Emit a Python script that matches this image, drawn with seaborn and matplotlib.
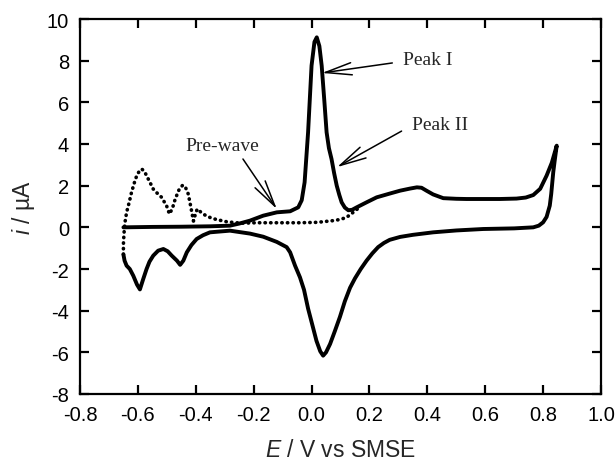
import pandas as pd
import matplotlib
matplotlib.use("Agg")
import matplotlib.pyplot as plt
import seaborn as sns

# --- data (E in V vs SMSE, i in uA) ---
# first cycle, forward sweep then reverse sweep (solid line)
e_fwd = [-0.650, -0.550, -0.450, -0.350, -0.282, -0.250, -0.213, -0.167, -0.120,
         -0.074, -0.046, -0.034, -0.024, -0.012, 0.000, 0.010, 0.018, 0.027,
         0.035, 0.044, 0.052, 0.060, 0.069, 0.078, 0.087, 0.096, 0.104, 0.115,
         0.127, 0.140, 0.156, 0.190, 0.225, 0.270, 0.306, 0.340, 0.364, 0.380,
         0.397, 0.420, 0.455, 0.500, 0.535, 0.600, 0.650, 0.708, 0.740, 0.766,
         0.790, 0.812, 0.830, 0.847]
i_fwd = [0.00, 0.02, 0.03, 0.05, 0.08, 0.18, 0.32, 0.56, 0.72,
         0.77, 0.96, 1.30, 2.16, 4.56, 7.76, 8.90, 9.12, 8.70,
         7.76, 6.10, 4.56, 3.80, 3.28, 2.60, 2.00, 1.55, 1.20, 0.95,
         0.82, 0.84, 0.96, 1.20, 1.44, 1.62, 1.76, 1.86, 1.92, 1.90,
         1.76, 1.58, 1.40, 1.37, 1.36, 1.36, 1.36, 1.38, 1.43, 1.55,
         1.85, 2.48, 3.10, 3.92]
e_rev = [0.847, 0.840, 0.835, 0.828, 0.823, 0.812, 0.800, 0.785, 0.766, 0.700,
         0.593, 0.500, 0.420, 0.350, 0.306, 0.270, 0.250, 0.230, 0.210, 0.190,
         0.170, 0.150, 0.133, 0.115, 0.098, 0.080, 0.064, 0.050, 0.040, 0.030,
         0.017, 0.003, -0.012, -0.026, -0.040, -0.057, -0.074, -0.086, -0.120,
         -0.167, -0.213, -0.282, -0.351, -0.375, -0.397, -0.415, -0.431, -0.443,
         -0.454, -0.465, -0.483, -0.497, -0.512, -0.530, -0.547, -0.560, -0.570,
         -0.582, -0.593, -0.603, -0.616, -0.628, -0.639, -0.646, -0.650]
i_rev = [3.92, 3.20, 2.64, 1.60, 1.04, 0.50, 0.24, 0.08, 0.00, -0.05,
         -0.08, -0.15, -0.24, -0.36, -0.46, -0.60, -0.75, -0.95, -1.25, -1.60,
         -2.00, -2.45, -2.90, -3.55, -4.30, -5.00, -5.60, -6.00, -6.16, -5.95,
         -5.45, -4.70, -3.90, -3.00, -2.40, -1.84, -1.20, -0.95, -0.70,
         -0.45, -0.30, -0.16, -0.24, -0.38, -0.56, -0.85, -1.20, -1.60,
         -1.80, -1.60, -1.36, -1.15, -1.04, -1.12, -1.36, -1.65, -2.00,
         -2.50, -2.98, -2.75, -2.32, -2.00, -1.84, -1.60, -1.30]

# second cycle where it departs from the first one (dotted line)
e_dot = [-0.650, -0.650, -0.648, -0.645, -0.639, -0.630, -0.622, -0.612, -0.604,
         -0.595, -0.587, -0.578, -0.570, -0.558, -0.547, -0.532, -0.518, -0.508,
         -0.501, -0.491, -0.481, -0.471, -0.458, -0.445, -0.435, -0.426, -0.418,
         -0.412, -0.408, -0.402, -0.395, -0.380, -0.365, -0.352, -0.330, -0.294,
         -0.260, -0.236, -0.190, -0.120, -0.041, 0.020, 0.074, 0.100, 0.121,
         0.144, 0.160]
i_dot = [-1.30, -0.80, -0.30, 0.20, 0.72, 1.20, 1.68, 2.15, 2.48,
         2.70, 2.80, 2.70, 2.48, 2.15, 1.84, 1.62, 1.44, 1.20,
         1.04, 0.64, 0.90, 1.36, 1.80, 2.03, 1.90, 1.60, 1.04,
         0.60, 0.30, 0.60, 0.88, 0.70, 0.56, 0.48, 0.38, 0.27,
         0.22, 0.20, 0.22, 0.22, 0.22, 0.24, 0.32, 0.38, 0.48,
         0.72, 0.90]

x_ticks = [-0.8, -0.6, -0.4, -0.2, 0.0, 0.2, 0.4, 0.6, 0.8, 1.0]
y_ticks = [-8, -6, -4, -2, 0, 2, 4, 6, 8, 10]

df_solid = pd.DataFrame({"E": e_fwd + e_rev, "i": i_fwd + i_rev})
df_dot = pd.DataFrame({"E": e_dot, "i": i_dot})

sns.set_theme(style="ticks")
plt.rcParams["font.family"] = ["Liberation Sans", "DejaVu Sans"]
plt.rcParams["mathtext.fontset"] = "custom"
plt.rcParams["mathtext.rm"] = "Liberation Sans"
plt.rcParams["mathtext.it"] = "Liberation Sans:italic"

fig = plt.figure(figsize=(6.15, 4.64), dpi=100)
ax = fig.add_axes([80 / 615, 69 / 464, 521 / 615, 375 / 464])

sns.lineplot(data=df_dot, x="E", y="i", sort=False, estimator=None, ax=ax,
             color="black", linewidth=2.6, linestyle=(0, (0.1, 1.45)),
             dash_capstyle="round")
sns.lineplot(data=df_solid, x="E", y="i", sort=False, estimator=None, ax=ax,
             color="black", linewidth=2.8, solid_joinstyle="round")

ax.set_xlim(-0.8, 1.0)
ax.set_ylim(-8, 10)
ax.set_xticks(x_ticks)
ax.set_yticks(y_ticks)
ax.set_xticklabels([f"{v:.1f}" for v in x_ticks])
ax.set_yticklabels([str(v) for v in y_ticks])
ax.tick_params(direction="in", length=6.5, width=1.6, labelsize=14.5, pad=8,
               top=True, right=True, colors="black")
for s in ax.spines.values():
    s.set_linewidth(1.6)
    s.set_color("black")

ax.set_xlabel(r"$\mathit{E}$ / V vs SMSE", fontsize=16.5, labelpad=10)
ax.set_ylabel(r"$\mathit{i}$ / µA", fontsize=16.5, labelpad=7)

# annotations
serif = ["Liberation Serif", "DejaVu Serif"]
arrow = dict(arrowstyle="->, head_length=0.95, head_width=0.22", color="black",
             lw=1.1, mutation_scale=20, shrinkA=0, shrinkB=0)
ax.text(-0.309, 3.95, "Pre-wave", family=serif, fontsize=14, ha="center", va="center")
ax.annotate("", xy=(-0.120, 0.88), xytext=(-0.237, 3.28), arrowprops=arrow)
ax.text(0.402, 8.08, "Peak I", family=serif, fontsize=14, ha="center", va="center")
ax.annotate("", xy=(0.036, 7.41), xytext=(0.279, 7.89), arrowprops=arrow)
ax.text(0.444, 4.96, "Peak II", family=serif, fontsize=14, ha="center", va="center")
ax.annotate("", xy=(0.088, 2.89), xytext=(0.311, 4.62), arrowprops=arrow)

if ax.get_legend() is not None:
    ax.get_legend().remove()

plt.savefig("out.png", dpi=100)
